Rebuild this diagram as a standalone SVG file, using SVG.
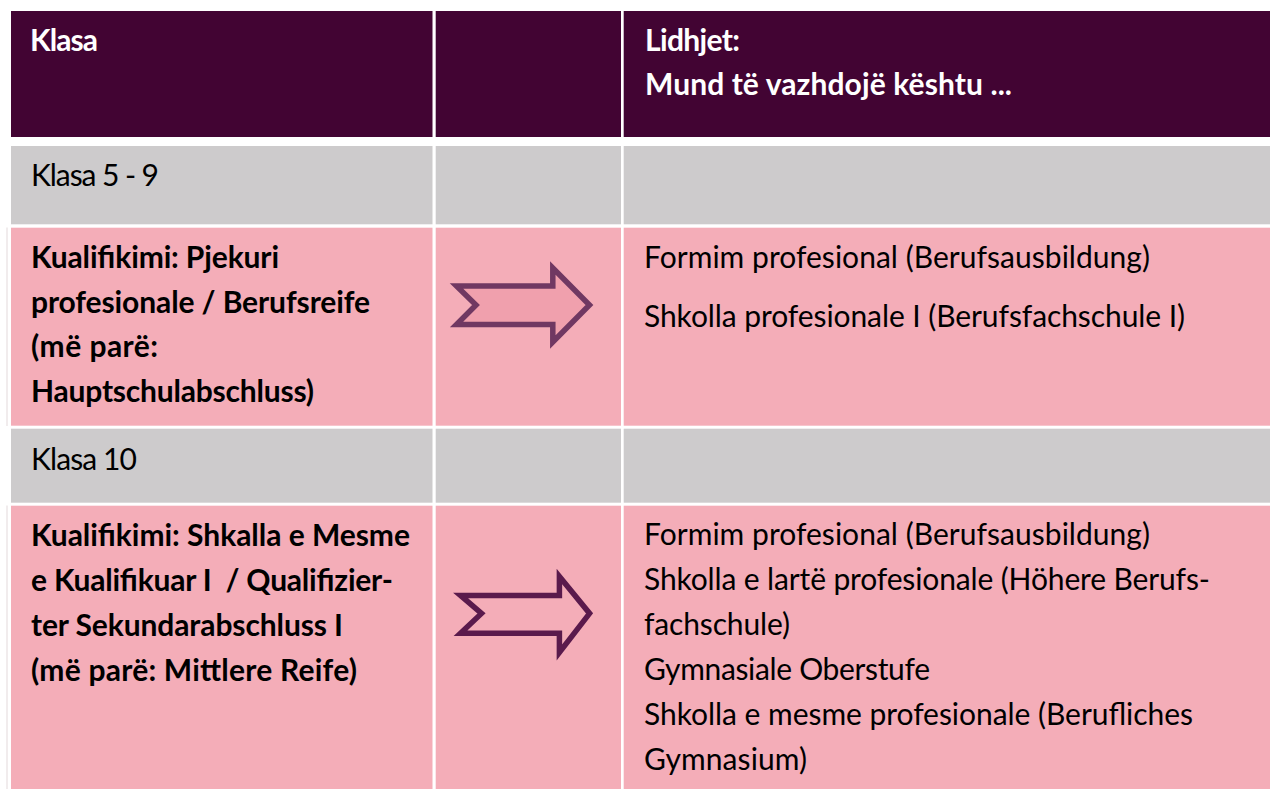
<svg xmlns="http://www.w3.org/2000/svg" width="1270" height="789" viewBox="0 0 1270 789">
<style>
.hd{fill:#420433}
.gr{fill:#cdcbcc}
.pk{fill:#f4adb8}
text{font-family:Lato,"Open Sans","Liberation Sans",sans-serif;font-size:30px;fill:#000}
.b{font-weight:bold}
.w{fill:#fff;font-weight:bold}
.arr{stroke-width:5.5;stroke-linejoin:miter}
</style>
<rect x="0" y="0" width="1270" height="789" fill="#fff"/>
<rect x="6.5" y="227.5" width="1" height="198.5" fill="#e3d9dc"/>
<rect x="6.5" y="505.5" width="1" height="284" fill="#e3d9dc"/>
<g id="header">
<rect class="hd" x="11" y="11" width="421.5" height="126"/>
<rect class="hd" x="435.7" y="11" width="185.3" height="126"/>
<rect class="hd" x="623.7" y="11" width="646.3" height="126"/>
<text class="w" x="30" y="51" textLength="68">Klasa</text>
<text class="w" x="645" y="51" textLength="95">Lidhjet:</text>
<text class="w" x="645" y="95" textLength="367">Mund të vazhdojë kështu ...</text>
</g>
<g id="row-klasa-5-9">
<rect class="gr" x="11" y="146" width="421.5" height="78.3"/>
<rect class="gr" x="435.7" y="146" width="185.3" height="78.3"/>
<rect class="gr" x="623.7" y="146" width="646.3" height="78.3"/>
<text x="31" y="186" textLength="128">Klasa 5 - 9</text>
</g>
<g id="row-berufsreife">
<rect class="pk" x="11" y="227.7" width="421.5" height="198"/>
<rect class="pk" x="435.7" y="227.7" width="185.3" height="198"/>
<rect class="pk" x="623.7" y="227.7" width="646.3" height="198"/>
<text class="b" x="31" y="268" textLength="248">Kualifikimi: Pjekuri</text>
<text class="b" x="31" y="312.5" textLength="339">profesionale / Berufsreife</text>
<text class="b" x="31" y="357" textLength="127">(më parë:</text>
<text class="b" x="31" y="401.5" textLength="283">Hauptschulabschluss)</text>
<text x="644" y="268" textLength="506">Formim profesional (Berufsausbildung)</text>
<text x="644" y="327" textLength="541">Shkolla profesionale I (Berufsfachschule I)</text>
</g>
<g id="row-klasa-10">
<rect class="gr" x="11" y="428.7" width="421.5" height="74"/>
<rect class="gr" x="435.7" y="428.7" width="185.3" height="74"/>
<rect class="gr" x="623.7" y="428.7" width="646.3" height="74"/>
<text x="31" y="470" textLength="106">Klasa 10</text>
</g>
<g id="row-sekundarabschluss">
<rect class="pk" x="11" y="505.7" width="421.5" height="283.3"/>
<rect class="pk" x="435.7" y="505.7" width="185.3" height="283.3"/>
<rect class="pk" x="623.7" y="505.7" width="646.3" height="283.3"/>
<text class="b" x="31" y="545.5" textLength="379">Kualifikimi: Shkalla e Mesme</text>
<text class="b" x="31" y="590.5" xml:space="preserve" textLength="362">e Kualifikuar I  / Qualifizier-</text>
<text class="b" x="31" y="635.5" textLength="312">ter Sekundarabschluss I</text>
<text class="b" x="31" y="680.5" textLength="326">(më parë: Mittlere Reife)</text>
<text x="644" y="545" textLength="506">Formim profesional (Berufsausbildung)</text>
<text x="644" y="590" textLength="566">Shkolla e lartë profesionale (Höhere Berufs-</text>
<text x="644" y="635" textLength="146">fachschule)</text>
<text x="644" y="680" textLength="286">Gymnasiale Oberstufe</text>
<text x="644" y="725" textLength="549">Shkolla e mesme profesionale (Berufliches</text>
<text x="644" y="770" textLength="163">Gymnasium)</text>
</g>
<g id="arrows">
<polygon class="arr" fill="#f0a0ad" stroke="#703862" points="456.5,286 552.8,286 552.8,268 589.5,305 552.8,342 552.8,324.6 456.5,324.6 476,305"/>
<polygon class="arr" fill="#f4adb8" stroke="#5a1a4c" points="460.5,595.4 559.4,595.4 559.4,576.5 589.6,613.4 559.4,652.5 559.4,633.3 460.5,633.3 481.5,613.4"/>
</g>
</svg>
